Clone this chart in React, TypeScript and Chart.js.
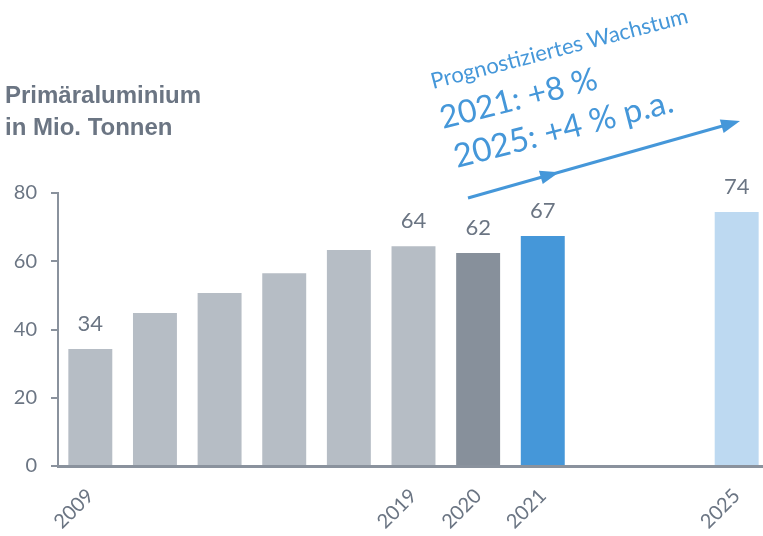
import React, { useEffect, useRef } from 'react';
import { Chart, registerables } from 'chart.js';

Chart.register(...registerables);

const LG = '#b6bdc5';
const DG = '#87909b';
const BLUE = '#4597d9';
const LBLUE = '#bdd9f1';
const TEXT = '#6b7583';
const AXIS = '#8a929d';

const categories = ['2009', '', '', '', '', '2019', '2020', '2021', '', '', '2025'];
const values: (number | null)[] = [34.3, 44.8, 50.7, 56.5, 63.3, 64.4, 62.4, 67.4, null, null, 74.4];
const valueLabels = ['34', '', '', '', '', '64', '62', '67', '', '', '74'];
const barColors = [LG, LG, LG, LG, LG, LG, DG, BLUE, LG, LG, LBLUE];
const yTicks = [0, 20, 40, 60, 80];
const titleLines = ['Primäraluminium', 'in Mio. Tonnen'];
const noteLines = ['Prognostiziertes Wachstum', '2021: +8 %', '2025: +4 % p.a.'];

const FONT = 'Lato, "Open Sans", sans-serif';

function arrowHead(ctx: CanvasRenderingContext2D, x: number, y: number, ang: number, len: number, half: number) {
  ctx.save();
  ctx.translate(x, y);
  ctx.rotate(ang);
  ctx.beginPath();
  ctx.moveTo(0, 0);
  ctx.lineTo(-len, -half);
  ctx.lineTo(-len, half);
  ctx.closePath();
  ctx.fill();
  ctx.restore();
}

const overlayPlugin = {
  id: 'overlay',
  afterDatasetsDraw(chart: any) {
    const ctx: CanvasRenderingContext2D = chart.ctx;
    const meta = chart.getDatasetMeta(0);
    ctx.save();
    ctx.fillStyle = TEXT;
    ctx.font = `22px ${FONT}`;
    ctx.textAlign = 'center';
    ctx.textBaseline = 'alphabetic';
    meta.data.forEach((el: any, i: number) => {
      if (!valueLabels[i] || values[i] == null) return;
      ctx.fillText(valueLabels[i], el.x, el.y - 18);
    });
    ctx.restore();
  },
  afterDraw(chart: any) {
    const ctx: CanvasRenderingContext2D = chart.ctx;
    ctx.save();
    // title
    ctx.fillStyle = TEXT;
    ctx.font = 'bold 24px "Liberation Sans", Arial, sans-serif';
    ctx.textAlign = 'left';
    ctx.textBaseline = 'alphabetic';
    ctx.fillText(titleLines[0], 5, 103);
    ctx.fillText(titleLines[1], 5, 135);

    // forecast note
    const ang = (-14.5 * Math.PI) / 180;
    const notes: [string, number, number, number][] = [
      [noteLines[0], 433, 89, 22],
      [noteLines[1], 443, 129, 32],
      [noteLines[2], 457, 168, 33],
    ];
    ctx.fillStyle = BLUE;
    notes.forEach(([t, x, y, s]) => {
      ctx.save();
      ctx.translate(x, y);
      ctx.rotate(ang);
      ctx.font = `${s}px ${FONT}`;
      ctx.fillText(t, 0, 0);
      ctx.restore();
    });

    // arrow
    const x0 = 468, y0 = 198, x1 = 740, y1 = 121;
    const a = Math.atan2(y1 - y0, x1 - x0);
    ctx.strokeStyle = BLUE;
    ctx.lineWidth = 3;
    ctx.beginPath();
    ctx.moveTo(x0, y0);
    ctx.lineTo(x1 - 10 * Math.cos(a), y1 - 10 * Math.sin(a));
    ctx.stroke();
    arrowHead(ctx, x1, y1, a, 19, 7);
    const t = 0.335;
    arrowHead(ctx, x0 + (x1 - x0) * t, y0 + (y1 - y0) * t, a, 19, 7);
    ctx.restore();
  },
};

export default function App() {
  const ref = useRef<HTMLCanvasElement | null>(null);
  useEffect(() => {
    if (!ref.current) return;
    const chart = new Chart(ref.current, {
      type: 'bar',
      data: {
        labels: categories,
        datasets: [
          {
            data: values,
            backgroundColor: barColors,
            borderWidth: 0,
            categoryPercentage: 1,
            barPercentage: 0.68,
          },
        ],
      },
      options: {
        animation: false,
        responsive: true,
        maintainAspectRatio: false,
        layout: { padding: { left: 0, right: 1, top: 193, bottom: 0 } },
        plugins: { legend: { display: false }, tooltip: { enabled: false }, title: { display: false } },
        scales: {
          x: {
            type: 'category',
            offset: true,
            grid: { display: false },
            border: { display: true, color: AXIS, width: 3 },
            ticks: {
              autoSkip: false,
              maxRotation: 45,
              minRotation: 45,
              padding: 10,
              color: TEXT,
              font: { family: FONT, size: 20 },
            },
            afterFit: (s: any) => {
              s.height = 70;
            },
          },
          y: {
            min: 0,
            max: 80,
            afterBuildTicks: (s: any) => {
              s.ticks = yTicks.map((v) => ({ value: v }));
            },
            grid: { display: true, drawOnChartArea: false, drawTicks: true, tickLength: 7, color: AXIS, lineWidth: 2 },
            border: { display: true, color: AXIS, width: 2 },
            ticks: { padding: 14, color: TEXT, font: { family: FONT, size: 20 } },
            afterFit: (s: any) => {
              s.width = 58;
            },
          },
        },
      },
      plugins: [overlayPlugin],
    });
    return () => chart.destroy();
  }, []);
  return (
    <div style={{ position: 'fixed', left: 0, top: 0, width: 763, height: 536, overflow: 'hidden', background: '#fff' }}>
      <div style={{ position: 'relative', width: 770, height: 536 }}>
        <canvas ref={ref} />
      </div>
    </div>
  );
}
